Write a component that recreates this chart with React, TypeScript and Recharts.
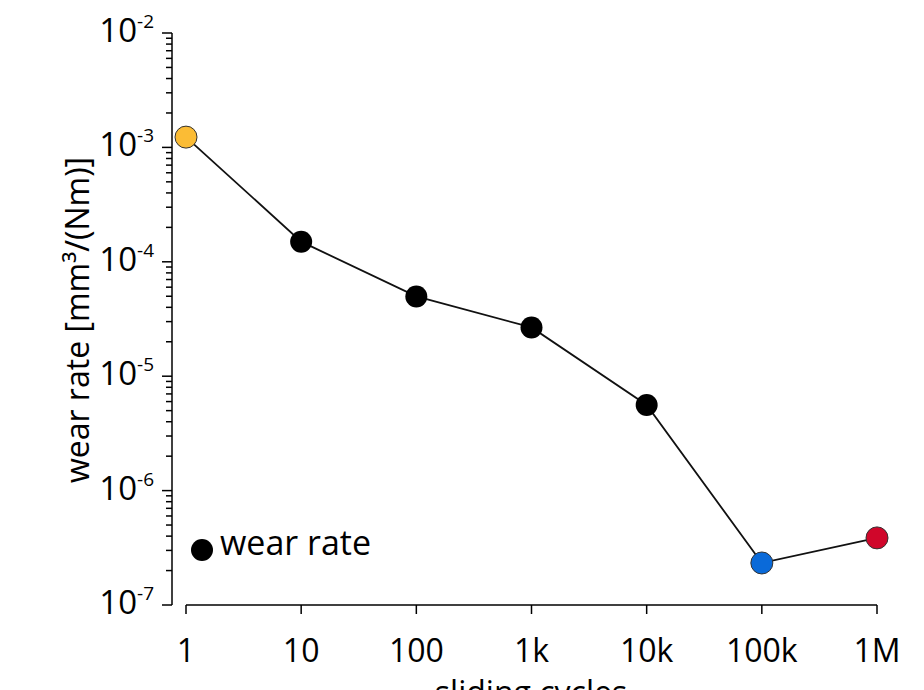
import React from 'react'
import { LineChart, Line, XAxis, YAxis, Legend, ReferenceLine } from 'recharts'

const cycles = [1, 10, 100, 1000, 10000, 100000, 1000000]
const wearRate = [1.23e-3, 1.5e-4, 4.98e-5, 2.67e-5, 5.6e-6, 2.33e-7, 3.86e-7]
const dotColors = ['#FBBC35', '#000000', '#000000', '#000000', '#000000', '#0A6AD9', '#D0062A']
const xTickLabels = ['1', '10', '100', '1k', '10k', '100k', '1M']
const yDecades = [-7, -6, -5, -4, -3, -2]

const font = "'Open Sans', 'Noto Sans', sans-serif"

const data = cycles.map((c, i) => ({ cycles: c, rate: wearRate[i] }))

const yTicks: number[] = []
yDecades.forEach((d, i) => {
  const last = i === yDecades.length - 1
  const mults = last ? [1] : [1, 2, 3, 4, 5, 6, 7, 8, 9]
  mults.forEach((m) => yTicks.push(Number((m * Math.pow(10, d)).toPrecision(3))))
})

function YTick(props: any) {
  const { x, y, payload } = props
  const lg = Math.log10(payload.value)
  const major = Math.abs(lg - Math.round(lg)) < 1e-6
  return (
    <g>
      <line x1={x - (major ? 10 : 6)} x2={x} y1={y} y2={y} stroke='#000' strokeWidth={1.5} />
      {major && (
        <text x={x - 18} y={y + 9} textAnchor='end' fontFamily={font} fill='#000'>
          <tspan fontSize={33}>10</tspan>
          <tspan fontSize={19} dy={-14}>{'-' + Math.abs(Math.round(lg))}</tspan>
        </text>
      )}
    </g>
  )
}

function XTick(props: any) {
  const { x, y, payload } = props
  const i = cycles.indexOf(payload.value)
  return (
    <g>
      <line x1={x} x2={x} y1={y} y2={y + 9} stroke='#000' strokeWidth={1.5} />
      <text x={x} y={y + 57} textAnchor='middle' fontFamily={font} fontSize={32} fill='#000'>
        {xTickLabels[i]}
      </text>
    </g>
  )
}

function renderDot(p: any) {
  const c = dotColors[p.index]
  return (
    <circle
      key={'dot-' + p.index}
      cx={p.cx}
      cy={p.cy}
      r={11}
      fill={c}
      stroke={c === '#000000' ? 'none' : '#333'}
      strokeWidth={1}
    />
  )
}

function LegendContent(props: any) {
  const item = props.payload && props.payload[0]
  return (
    <svg width={200} height={40} style={{ display: 'block', overflow: 'visible' }}>
      <circle cx={12} cy={20} r={11} fill='#000' />
      <text x={30} y={25} fontFamily={font} fontSize={34} fill='#000'>
        {item ? item.value : 'wear rate'}
      </text>
    </svg>
  )
}

export default function App() {
  return (
    <div style={{ position: 'absolute', left: 0, top: 0, background: '#fff' }}>
      <LineChart width={924} height={690} data={data} margin={{ top: 33, right: 37, bottom: 0, left: 0 }}>
        <XAxis
          dataKey='cycles'
          type='number'
          scale='log'
          domain={[1, 1000000]}
          ticks={cycles}
          interval={0}
          padding={{ left: 14, right: 10 }}
          axisLine={false}
          tickLine={false}
          tickSize={0}
          tickMargin={0}
          tick={<XTick />}
          height={85}
          label={() => (
            <text x={531} y={704} textAnchor='middle' fontFamily={font} fontSize={32} fill='#000'>
              sliding cycles
            </text>
          )}
        />
        <YAxis
          type='number'
          scale='log'
          domain={[1e-7, 1e-2]}
          ticks={yTicks}
          interval={0}
          width={172}
          axisLine={{ stroke: '#000', strokeWidth: 1.5 }}
          tickLine={false}
          tickSize={0}
          tickMargin={0}
          tick={<YTick />}
          label={() => (
            <text
              x={76}
              y={320}
              transform='rotate(-90 76 320)'
              textAnchor='middle'
              dominantBaseline='central'
              fontFamily={font}
              fontSize={32}
              fill='#000'
            >
              wear rate [mm³/(Nm)]
            </text>
          )}
        />
        <ReferenceLine
          segment={[
            { x: 1, y: 1e-7 },
            { x: 1000000, y: 1e-7 }
          ]}
          stroke='#000'
          strokeWidth={1.5}
          ifOverflow='visible'
        />
        <Legend
          layout='horizontal'
          verticalAlign='middle'
          align='center'
          wrapperStyle={{ left: 190, top: 530, width: 'auto' }}
          content={<LegendContent />}
        />
        <Line
          dataKey='rate'
          name='wear rate'
          stroke='#111'
          strokeWidth={1.8}
          dot={renderDot}
          activeDot={false}
          isAnimationActive={false}
        />
      </LineChart>
    </div>
  )
}
